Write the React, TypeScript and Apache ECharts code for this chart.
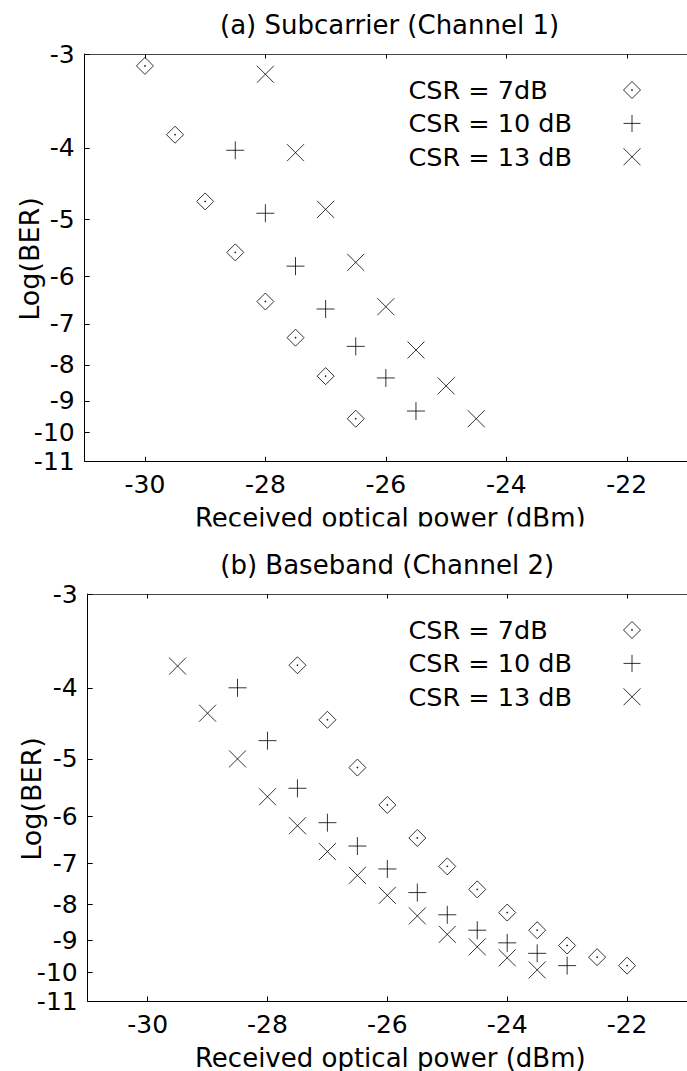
import React, { useEffect, useRef } from 'react';
import * as echarts from 'echarts';

const FONT = "'DejaVu Sans', sans-serif";

// ---- axis ticks ----
const xTicks = [-30, -28, -26, -24, -22];
const yTicks = [-3, -4, -5, -6, -7, -8, -9, -10, -11];
const seriesNames = ['CSR = 7dB', 'CSR = 10 dB', 'CSR = 13 dB'];

// ---- (a) Subcarrier (Channel 1) ----
const subX7 = [-30, -29.5, -29, -28.5, -28, -27.5, -27, -26.5];
const subY7 = [-3.11, -3.84, -4.73, -5.56, -6.51, -7.32, -8.3, -9.55];
const subX10 = [-28.5, -28, -27.5, -27, -26.5, -26, -25.5];
const subY10 = [-4.03, -4.91, -5.81, -6.67, -7.53, -8.35, -9.31];
const subX13 = [-28, -27.5, -27, -26.5, -26, -25.5, -25, -24.5];
const subY13 = [-3.19, -4.06, -4.85, -5.74, -6.62, -7.62, -8.57, -9.55];

// ---- (b) Baseband (Channel 2) ----
const baseX7 = [-27.5, -27, -26.5, -26, -25.5, -25, -24.5, -24, -23.5, -23, -22.5, -22];
const baseY7 = [-3.73, -4.42, -5.14, -5.79, -6.44, -7.06, -7.61, -8.21, -8.7, -9.15, -9.51, -9.78];
const baseX10 = [-28.5, -28, -27.5, -27, -26.5, -26, -25.5, -25, -24.5, -24, -23.5, -23];
const baseY10 = [-4.0, -4.72, -5.49, -6.13, -6.61, -7.12, -7.69, -8.27, -8.7, -9.07, -9.39, -9.78];
const baseX13 = [-29.5, -29, -28.5, -28, -27.5, -27, -26.5, -26, -25.5, -25, -24.5, -24, -23.5];
const baseY13 = [-3.74, -4.33, -5.0, -5.64, -6.19, -6.73, -7.27, -7.76, -8.3, -8.82, -9.19, -9.53, -9.92];

// BER probability scale: y = log10(erfcinv(BER)), BER = 10^L
function erfc(x: number): number {
  const z = Math.abs(x);
  const t = 1 / (1 + 0.5 * z);
  const r =
    t *
    Math.exp(
      -z * z - 1.26551223 +
        t * (1.00002368 + t * (0.37409196 + t * (0.09678418 + t * (-0.18628806 +
        t * (0.27886807 + t * (-1.13520398 + t * (1.48851587 + t * (-0.82215223 + t * 0.17087277))))))))
    );
  return x >= 0 ? r : 2 - r;
}
function erfcinv(p: number): number {
  let lo = 0, hi = 10;
  for (let i = 0; i < 100; i++) {
    const mid = (lo + hi) / 2;
    if (erfc(mid) > p) lo = mid; else hi = mid;
  }
  return (lo + hi) / 2;
}
const T = (L: number) => Math.log10(erfcinv(Math.pow(10, L)));
const yTickVals = yTicks.map(T);

const DIAMOND = 'path://M8 0L16 8L8 16L0 8Z M7.6 7.6L8.4 7.6L8.4 8.4L7.6 8.4Z';
const PLUS = 'path://M0 8L16 8M8 0L8 16';
const CROSS = 'path://M0 0L16 16M16 0L0 16';

export default function App() {
  const ref = useRef<HTMLDivElement>(null);
  useEffect(() => {
    if (!ref.current) return;
    const chart = echarts.init(ref.current, undefined, { renderer: 'svg' });

    const xAxisDef = (gridIndex: number, pos: 'top' | 'bottom') => ({
      type: 'value',
      gridIndex,
      position: pos,
      min: -31,
      max: -21,
      axisLine: { show: true, onZero: false, lineStyle: { color: pos === 'top' ? '#444' : '#000', width: 1 } },
      axisTick: { show: true, inside: true, length: 4.5, customValues: xTicks, lineStyle: { color: '#000', width: 1 } },
      axisLabel:
        pos === 'bottom'
          ? { show: true, customValues: xTicks, margin: 11, fontSize: 25, fontFamily: FONT, color: '#000' }
          : { show: false },
      splitLine: { show: false },
    });
    const yAxisDef = (gridIndex: number) => ({
      type: 'value',
      gridIndex,
      min: T(-3),
      max: T(-11),
      inverse: true,
      axisLine: { show: true, onZero: false, lineStyle: { color: '#000', width: 1 } },
      axisTick: { show: true, inside: true, length: 5, customValues: yTickVals, lineStyle: { color: '#000', width: 1 } },
      axisLabel: {
        show: true,
        customValues: yTickVals,
        margin: 10,
        fontSize: 25,
        fontFamily: FONT,
        color: '#000',
        formatter: (v: number) => {
          const i = yTickVals.findIndex((t) => Math.abs(t - v) < 1e-9);
          return i >= 0 ? String(yTicks[i]) : '';
        },
      },
      splitLine: { show: false },
    });

    const mk = (name: string, xs: number[], ys: number[], symbol: string, size: number, panel: number) => ({
      type: 'scatter',
      name,
      xAxisIndex: panel * 2,
      yAxisIndex: panel,
      data: xs.map((x, i) => [x, T(ys[i])]),
      symbol,
      symbolSize: size,
      itemStyle: { color: 'transparent', borderColor: '#000', borderWidth: 1 },
      emphasis: { disabled: true },
    });

    const legendDef = (panel: number) => ({
      data: seriesNames,
      orient: 'vertical',
      left: 408.5,
      top: 77 + 540 * panel,
      itemGap: 7.4,
      itemWidth: 17,
      itemHeight: 17,
      padding: 0,
      align: 'right',
      selectedMode: false,
      formatter: '{a|{name}}',
      itemStyle: { color: 'transparent', borderColor: '#000', borderWidth: 1 },
      textStyle: {
        rich: { a: { width: 210, align: 'left', fontSize: 25.5, fontFamily: FONT, color: '#000' } },
      },
    });

    const txt = (text: string, x: number, y: number, size: number, rotation = 0) => ({
      type: 'text',
      x,
      y,
      rotation,
      z: 10,
      style: {
        text,
        font: `${size}px 'DejaVu Sans', sans-serif`,
        fill: '#000',
        textAlign: 'center',
        textVerticalAlign: 'middle',
      },
    });

    chart.setOption({
      animation: false,
      backgroundColor: '#fff',
      grid: [
        { left: 84.7, top: 54, right: -8.8, height: 407.3 },
        { left: 87.7, top: 594, right: -5.1, height: 407 },
      ],
      xAxis: [xAxisDef(0, 'bottom'), xAxisDef(0, 'top'), xAxisDef(1, 'bottom'), xAxisDef(1, 'top')],
      yAxis: [yAxisDef(0), yAxisDef(1)],
      legend: [legendDef(0), legendDef(1)],
      series: [
        mk(seriesNames[0], subX7, subY7, DIAMOND, 17, 0),
        mk(seriesNames[1], subX10, subY10, PLUS, 18, 0),
        mk(seriesNames[2], subX13, subY13, CROSS, 17, 0),
        mk(seriesNames[0], baseX7, baseY7, DIAMOND, 17, 1),
        mk(seriesNames[1], baseX10, baseY10, PLUS, 18, 1),
        mk(seriesNames[2], baseX13, baseY13, CROSS, 17, 1),
      ],
      graphic: [
        txt('(a) Subcarrier (Channel 1)', 389.6, 25, 26),
        txt('(b) Baseband (Channel 2)', 387.2, 565, 26),
        txt('Received optical power (dBm)', 390.3, 517.5, 26),
        txt('Received optical power (dBm)', 390.3, 1057.5, 26),
        txt('Log(BER)', 29.5, 259, 27, Math.PI / 2),
        txt('Log(BER)', 31.7, 799, 27, Math.PI / 2),
        {
          type: 'rect',
          z: 20,
          shape: { x: 0, y: 526.5, width: 687, height: 19 },
          style: { fill: '#fff' },
        },
      ],
    });
    return () => chart.dispose();
  }, []);
  return (
    <div
      ref={ref}
      style={{ position: 'absolute', left: 0, top: 0, width: 687, height: 1071, background: '#fff' }}
    />
  );
}
